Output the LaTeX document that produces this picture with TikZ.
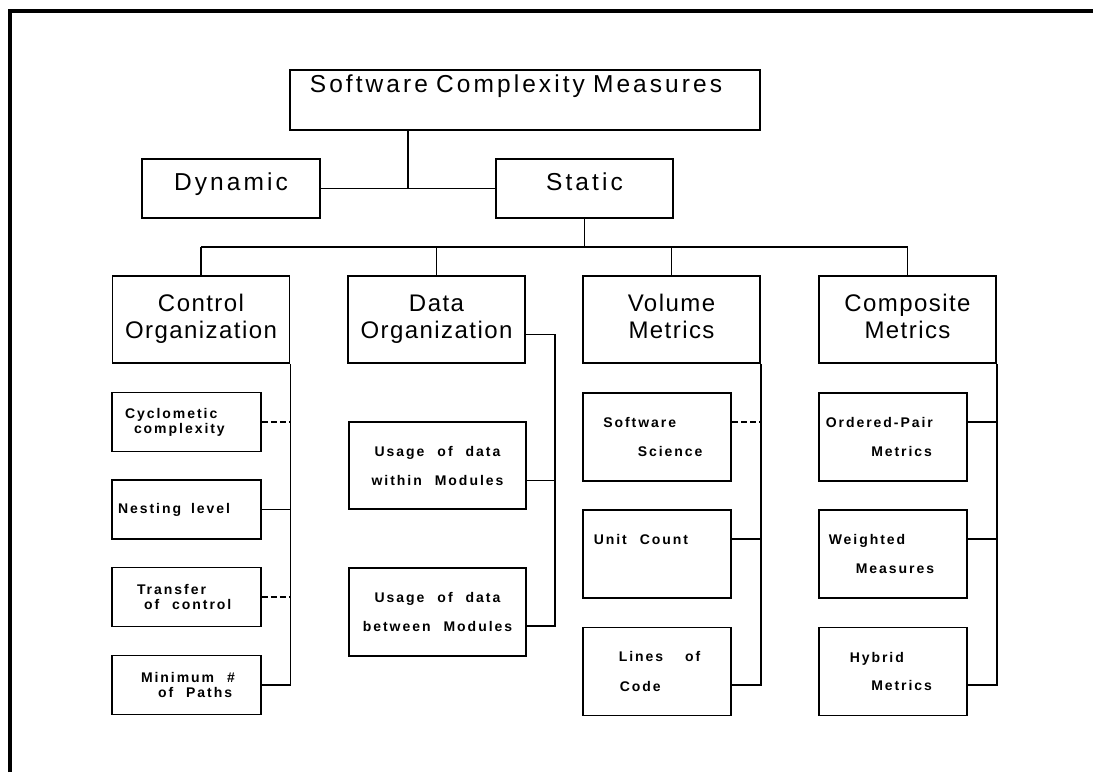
\documentclass[tikz,border=0pt]{standalone}
\usepackage{fontspec}
\setmainfont{Liberation Sans}
\newfontfamily\bigfont[LetterSpace=12.5]{Liberation Sans}
\newfontfamily\midfont[LetterSpace=6]{Liberation Sans}
\newfontfamily\smallfont[LetterSpace=14]{Liberation Sans}
\newcommand\leaffont{\fontsize{14}{15}\selectfont\smallfont\bfseries}
\newcommand\wsp{\hspace{13pt}}

\tikzset{
  head/.style={draw, line width=1.6pt, inner sep=0pt, align=center,
    font=\fontsize{24.5}{27}\selectfont\bigfont},
  cat/.style={head, text width=177pt, minimum height=87pt, text height=17pt, text depth=33pt,
    font=\fontsize{24}{26.5}\selectfont\midfont},
  leaf/.style={draw, line width=1.6pt, inner sep=0pt, align=left, minimum height=59pt,
    font=\leaffont},
  tall/.style={leaf, minimum height=88pt},
  gap/.style={dash pattern=on 6pt off 3pt}
}

\begin{document}
\begin{tikzpicture}[x=1pt, y=-1pt, line width=1.5pt]
  \useasboundingbox (0,0) rectangle (1093,772);
  \draw[line width=4pt] (10,772) -- (10,11) -- (1093,11);

  \node[head, text width=470pt, minimum height=60pt, text height=17pt, text depth=33pt] (top) at (525,100) {\hspace*{-18pt}Software Complexity Measures};
  \node[head, text width=178pt, minimum height=59pt, text height=17pt, text depth=14pt] (dyn) at (231,188.5) {Dynamic};
  \node[head, text width=177pt, minimum height=59pt, text height=17pt, text depth=14pt] (stat) at (584.5,188.5) {Static};

  \node[cat] (ctrl) at (201,319.5) {Control\\Organization};
  \node[cat] (data) at (436.5,319.5) {Data\\Organization};
  \node[cat] (vol) at (671.5,319.5) {Volume\\Metrics};
  \node[cat] (comp) at (907.5,319.5) {Composite\\Metrics};

  \node[leaf, text width=149pt] (cyc) at (186.5,422) {\hspace*{13pt}Cyclometic\\\hspace*{22pt}complexity};
  \node[leaf, text width=149pt] (nest) at (186.5,509.5) {\hspace*{6pt}Nesting\hspace{10pt}level};
  \node[leaf, text width=149pt] (trans) at (186.5,597) {\hspace*{25pt}Transfer\\\hspace*{32pt}of\wsp control};
  \node[leaf, text width=149pt] (mini) at (186.5,685) {\hspace*{29pt}Minimum\wsp\#\\\hspace*{46pt}of\wsp Paths};

  \node[tall, text width=177pt, align=center, minimum height=87pt] (within) at (437.5,465.5) {Usage\wsp of\wsp data\\[14pt]within\wsp Modules};
  \node[tall, text width=177pt, align=center] (betw) at (437.5,612) {Usage\wsp of\wsp data\\[14pt]between\wsp Modules};

  \node[tall, text width=148.5pt] (sci) at (657,437) {\hspace*{20.5pt}Software\\[14pt]\hspace*{55pt}Science};
  \node[tall, text width=148.5pt, text height=10pt, text depth=30pt] (unit) at (657,554) {\hspace*{11pt}Unit\wsp Count};
  \node[tall, text width=148.5pt] (loc) at (657,671.5) {\hspace*{36pt}Lines\hspace{22pt}of\\[15pt]\hspace*{37pt}Code};

  \node[tall, text width=148.5pt] (ord) at (893,437) {\hspace*{7pt}Ordered-Pair\\[14pt]\hspace*{52.5pt}Metrics};
  \node[tall, text width=148.5pt] (wgt) at (893,554) {\hspace*{10pt}Weighted\\[14pt]\hspace*{37pt}Measures};
  \node[tall, text width=148.5pt] (hyb) at (893,671.5) {\hspace*{31pt}Hybrid\\[13pt]\hspace*{52.5pt}Metrics};

  \coordinate (j0) at (408,188.5);
  \coordinate (bus) at (584.5,247);
  \coordinate (dtr) at (555,0);
  \draw (top.south -| j0) -- (j0);
  \draw (dyn.east) -- (stat.west);
  \draw (stat.south) -- (bus);
  \draw (ctrl.north |- bus) -- (comp.north |- bus);
  \foreach \n in {ctrl,data,vol,comp}
    \draw (\n.north |- bus) -- (\n.north);

  \draw (ctrl.south east) -- (mini.east -| ctrl.east) -- (mini.east);
  \draw[gap] (cyc.east) -- (cyc.east -| ctrl.east);
  \draw (nest.east) -- (nest.east -| ctrl.east);
  \draw[gap] (trans.east) -- (trans.east -| ctrl.east);

  \draw ([yshift=-15pt]data.east) -- ([yshift=-15pt]data.east -| dtr) -- ([yshift=-14pt]betw.east -| dtr) -- ([yshift=-14pt]betw.east);
  \draw ([yshift=-15pt]within.east) -- ([yshift=-15pt]within.east -| dtr);

  \draw (vol.south east) -- ([yshift=-13.5pt]loc.east -| vol.east) -- ([yshift=-13.5pt]loc.east);
  \draw[gap] ([yshift=15pt]sci.east) -- ([yshift=15pt]sci.east -| vol.east);
  \draw ([yshift=15pt]unit.east) -- ([yshift=15pt]unit.east -| vol.east);

  \draw (comp.south east) -- ([yshift=-13.5pt]hyb.east -| comp.east) -- ([yshift=-13.5pt]hyb.east);
  \draw ([yshift=15pt]ord.east) -- ([yshift=15pt]ord.east -| comp.east);
  \draw ([yshift=15pt]wgt.east) -- ([yshift=15pt]wgt.east -| comp.east);
\end{tikzpicture}
\end{document}
